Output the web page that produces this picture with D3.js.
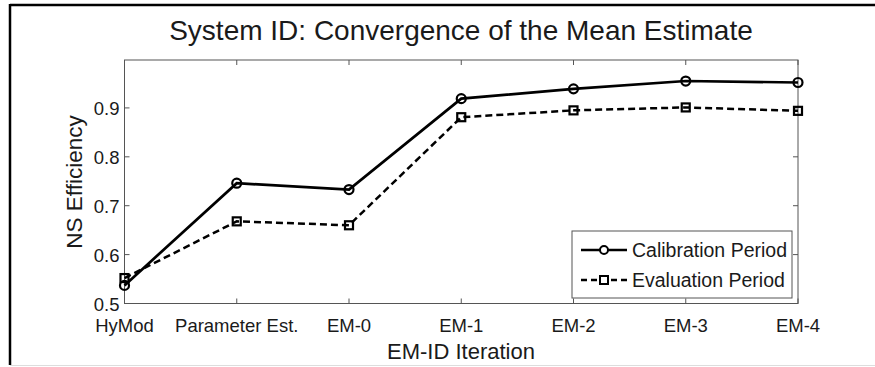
<!DOCTYPE html>
<html>
<head>
<meta charset="utf-8">
<script src="https://cdn.jsdelivr.net/npm/d3@7"></script>
<style>
  body { margin: 0; background: #fff; }
  svg { display: block; font-family: "Liberation Sans", Arial, sans-serif; }
</style>
</head>
<body>
<div id="chart"></div>
<script>
const categories = ["HyMod", "Parameter Est.", "EM-0", "EM-1", "EM-2", "EM-3", "EM-4"];
const calibration = [0.537, 0.746, 0.733, 0.919, 0.939, 0.955, 0.952];
const evaluation = [0.552, 0.668, 0.660, 0.881, 0.895, 0.901, 0.894];
const yTicks = [0.5, 0.6, 0.7, 0.8, 0.9];

const width = 875, height = 367;
const margin = { top: 60, right: 77, bottom: 63.5, left: 124.5 };

const svg = d3.select('#chart')
  .append('svg')
  .attr('width', width)
  .attr('height', height);

// figure frame
svg.append('line').attr('x1', 10).attr('x2', width).attr('y1', 5).attr('y2', 5)
  .style('stroke', '#000').style('stroke-width', 2.5);
svg.append('line').attr('x1', 10).attr('x2', 10).attr('y1', 4).attr('y2', 365)
  .style('stroke', '#000').style('stroke-width', 2.5);
svg.append('line').attr('x1', 10).attr('x2', width).attr('y1', 365.5).attr('y2', 365.5)
  .style('stroke', '#ddd').style('stroke-width', 1);

const x = d3.scalePoint()
  .domain(categories)
  .range([margin.left, width - margin.right]);

const y = d3.scaleLinear()
  .domain([0.5, 0.998])
  .range([height - margin.bottom, margin.top]);

const axisColor = '#555';
const textColor = '#1a1a1a';

// box
svg.append('rect')
  .attr('x', margin.left).attr('y', margin.top)
  .attr('width', width - margin.left - margin.right)
  .attr('height', height - margin.top - margin.bottom)
  .style('fill', 'none').style('stroke', axisColor).style('stroke-width', 1);

// inner ticks (bottom/top, left/right)
const tickLen = 5;
const gx = svg.append('g');
categories.forEach(c => {
  gx.append('line').attr('x1', x(c)).attr('x2', x(c))
    .attr('y1', y.range()[0]).attr('y2', y.range()[0] - tickLen)
    .style('stroke', axisColor);
  gx.append('line').attr('x1', x(c)).attr('x2', x(c))
    .attr('y1', y.range()[1]).attr('y2', y.range()[1] + tickLen)
    .style('stroke', axisColor);
  gx.append('text')
    .attr('x', x(c)).attr('y', 332)
    .attr('text-anchor', 'middle')
    .style('font-size', '18.5px').style('fill', textColor)
    .text(c);
});
yTicks.forEach(t => {
  gx.append('line').attr('x1', margin.left).attr('x2', margin.left + tickLen)
    .attr('y1', y(t)).attr('y2', y(t)).style('stroke', axisColor);
  gx.append('line').attr('x1', width - margin.right).attr('x2', width - margin.right - tickLen)
    .attr('y1', y(t)).attr('y2', y(t)).style('stroke', axisColor);
  gx.append('text')
    .attr('x', margin.left - 5).attr('y', y(t) + 7)
    .attr('text-anchor', 'end')
    .style('font-size', '18.5px').style('fill', textColor)
    .text(d3.format('.1f')(t));
});

// lines
const line = d3.line()
  .x((d, i) => x(categories[i]))
  .y(d => y(d));

svg.append('path').datum(evaluation)
  .attr('d', line)
  .style('fill', 'none').style('stroke', '#000')
  .style('stroke-width', 2.5).style('stroke-dasharray', '7,4');

svg.append('path').datum(calibration)
  .attr('d', line)
  .style('fill', 'none').style('stroke', '#000')
  .style('stroke-width', 2.7);

svg.selectAll('.sq').data(evaluation).enter()
  .append('rect')
  .attr('class', 'sq')
  .attr('x', (d, i) => x(categories[i]) - 4).attr('y', d => y(d) - 4)
  .attr('width', 8).attr('height', 8)
  .style('fill', 'none').style('stroke', '#000').style('stroke-width', 2.2);

svg.selectAll('.cir').data(calibration).enter()
  .append('circle')
  .attr('class', 'cir')
  .attr('cx', (d, i) => x(categories[i])).attr('cy', d => y(d))
  .attr('r', 4.5)
  .style('fill', 'none').style('stroke', '#000').style('stroke-width', 2.2);

// title and axis labels
svg.append('text')
  .attr('x', 461).attr('y', 40)
  .attr('text-anchor', 'middle')
  .style('font-size', '28px').style('fill', textColor)
  .text('System ID: Convergence of the Mean Estimate');

svg.append('text')
  .attr('x', 461).attr('y', 359)
  .attr('text-anchor', 'middle')
  .style('font-size', '22px').style('fill', textColor)
  .text('EM-ID Iteration');

svg.append('text')
  .attr('transform', 'translate(82,182) rotate(-90)')
  .attr('text-anchor', 'middle')
  .style('font-size', '22.5px').style('fill', textColor)
  .text('NS Efficiency');

// legend
const lg = svg.append('g');
lg.append('rect')
  .attr('x', 572).attr('y', 231).attr('width', 220).attr('height', 67)
  .style('fill', '#fff').style('stroke', axisColor).style('stroke-width', 1);

const legendItems = [
  { label: 'Calibration Period', dash: null, marker: 'circle', y: 250 },
  { label: 'Evaluation Period', dash: '6,4', marker: 'square', y: 280 }
];
legendItems.forEach(it => {
  lg.append('line')
    .attr('x1', 581).attr('x2', 627).attr('y1', it.y).attr('y2', it.y)
    .style('stroke', '#000').style('stroke-width', 2.5)
    .style('stroke-dasharray', it.dash);
  if (it.marker === 'circle') {
    lg.append('circle').attr('cx', 604).attr('cy', it.y).attr('r', 4)
      .style('fill', '#fff').style('stroke', '#000').style('stroke-width', 2);
  } else {
    lg.append('rect').attr('x', 600).attr('y', it.y - 4).attr('width', 8).attr('height', 8)
      .style('fill', '#fff').style('stroke', '#000').style('stroke-width', 2);
  }
  lg.append('text')
    .attr('x', 632).attr('y', it.y + 7)
    .style('font-size', '19.5px').style('fill', textColor)
    .text(it.label);
});
</script>
</body>
</html>
